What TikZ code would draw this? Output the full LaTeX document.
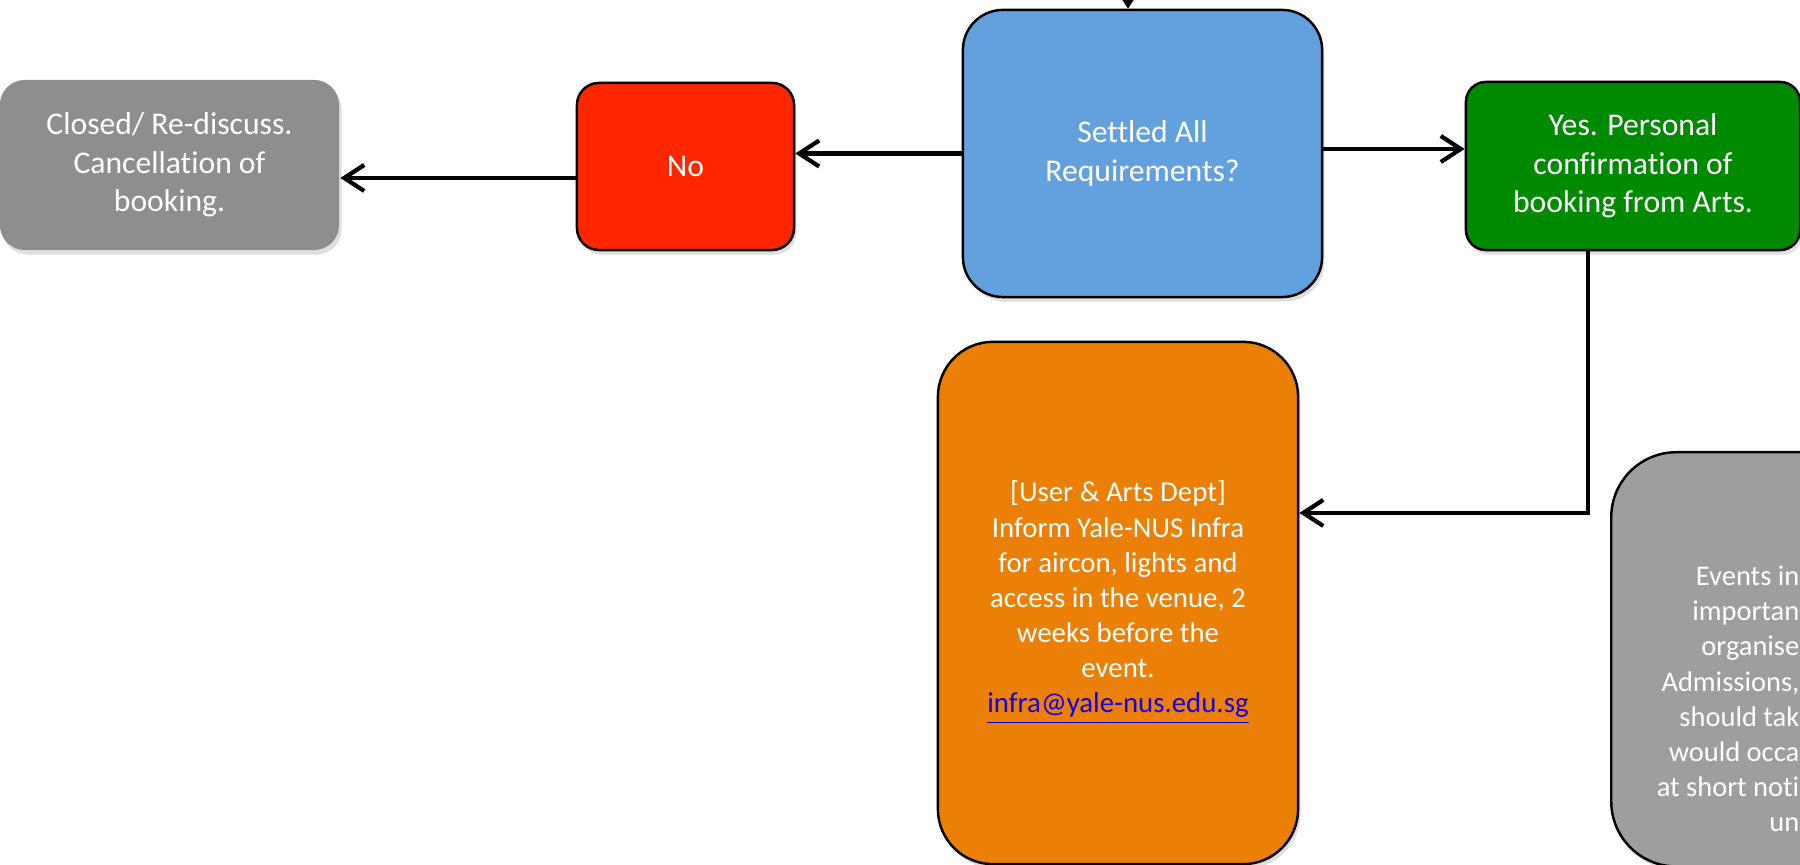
\documentclass[tikz,border=0pt]{standalone}
\usepackage{fontspec}
\setmainfont{Carlito}[Ligatures=NoCommon]
\usetikzlibrary{arrows.meta,shadows,positioning}

\definecolor{askblue}{RGB}{99,161,222}
\definecolor{nored}{RGB}{255,38,0}
\definecolor{yesgreen}{RGB}{0,138,0}
\definecolor{infraorange}{RGB}{236,127,5}
\definecolor{closegrey}{RGB}{142,142,142}
\definecolor{eventgrey}{RGB}{158,158,158}
\definecolor{linkblue}{RGB}{20,0,230}

\tikzset{
  box/.style={draw=black, line width=0.7pt, text=white, align=center, inner sep=0pt,
    drop shadow={opacity=0.25, shadow xshift=0.025cm, shadow yshift=-0.045cm}},
  arr/.style={line width=1.2pt, -{Straight Barb[length=0.2cm,width=0.26cm]}},
  txtA/.style={font=\fontsize{9}{10.9}\selectfont},
  txtB/.style={font=\fontsize{8.2}{10}\selectfont},
}

\begin{document}
\begin{tikzpicture}[x=0.01cm,y=-0.01cm]
\useasboundingbox (0,0) rectangle (1800,865);
\clip (0,0) rectangle (1800,865);

% boxes
\node[box, txtA, fill=askblue, rounded corners=0.4cm, minimum width=3.59cm, minimum height=2.87cm] (settled) at (1142.5,153.5) {Settled All\\Requirements?};
\node[box, txtA, fill=nored, rounded corners=0.22cm, minimum width=2.17cm, minimum height=1.67cm] (no) at (685.5,166.5) {No};
\node[box, txtA, draw=none, fill=closegrey, rounded corners=0.25cm, minimum width=3.39cm, minimum height=1.70cm] (closed) at (169.5,165) {Closed/ Re-discuss.\\Cancellation of\\booking.};
\node[box, txtA, fill=yesgreen, rounded corners=0.2cm, minimum width=3.34cm, minimum height=1.68cm] (yes) at (1633,166) {Yes. Personal\\confirmation of\\booking from Arts.};
\node[box, txtB, fill=infraorange, rounded corners=0.55cm, minimum width=3.6cm, minimum height=5.22cm] (infra) at (1118,603) {[User \& Arts Dept]\\Inform Yale-NUS Infra\\for aircon, lights and\\access in the venue, 2\\weeks before the\\event.\\{\color{linkblue}\underline{infra@yale-nus.edu.sg}}};
\node[box, fill=eventgrey, rounded corners=0.65cm, minimum width=3.6cm, minimum height=4.14cm, anchor=north west] (events) at (1610,451) {};
\node[text=white, align=right, anchor=east, inner sep=0pt, font=\fontsize{8.1}{10}\selectfont] (eventstext) at (1800,699) {Events in\\importan\\organise\\Admissions,\\should tak\\would occa\\at short noti\\un};

% connectors
\coordinate (prev) at (1128,-80);
\draw[arr] (prev) -- (prev |- settled.north);
\draw[arr] (settled.west) -- (settled.west -| no.east);
\draw[arr] ([yshift=-0.115cm]no.west) -- ([yshift=-0.115cm]no.west -| closed.east);
\draw[arr] ([yshift=0.045cm]settled.east) -- ([yshift=0.045cm]settled.east -| yes.west);
\draw[arr] ([xshift=-0.45cm]yes.south) |- ([yshift=0.9cm]infra.east);
\end{tikzpicture}
\end{document}
